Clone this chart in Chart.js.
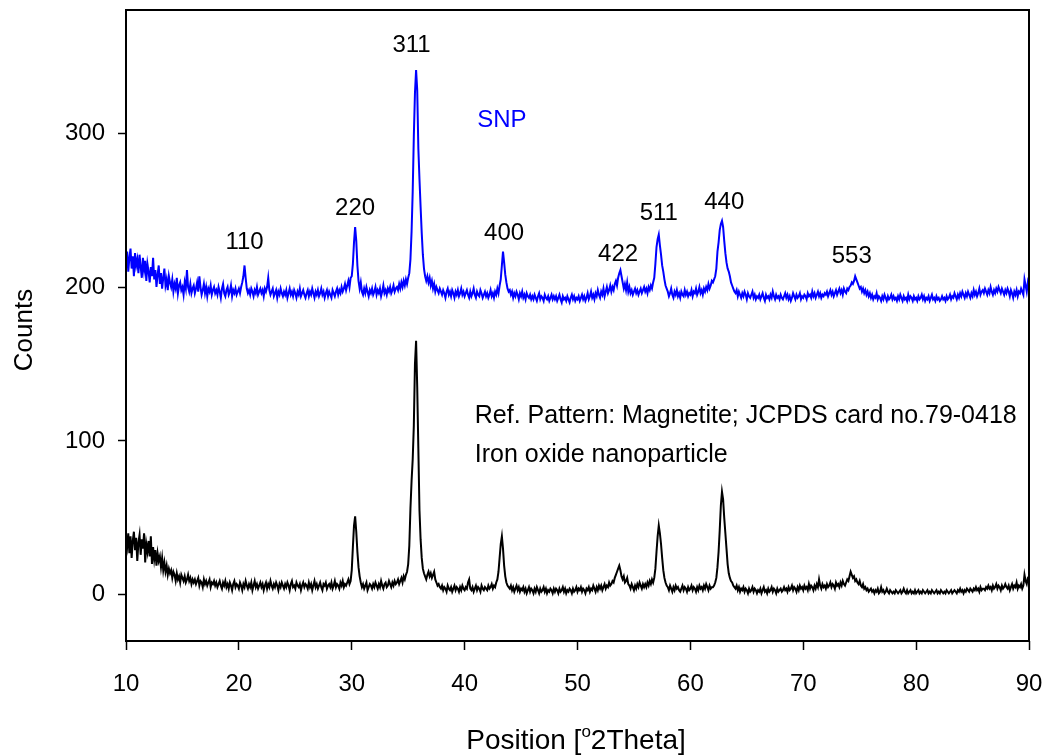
<!DOCTYPE html>
<html>
<head>
<meta charset="utf-8">
<script src="https://cdn.jsdelivr.net/npm/chart.js@4.4.0/dist/chart.umd.min.js"></script>
<style>
  html, body { margin: 0; padding: 0; background: #fff; }
</style>
</head>
<body>
<canvas id="myChart" width="1048" height="756"></canvas>
<script>
// scan grid (degrees 2theta)
var scanStart = 10
var scanStep = 0.1

// SNP pattern (blue), one value per 0.1 deg, 20 values per row = 2 deg
var snpCounts = [
  216, 223, 210, 219, 225, 212, 220, 207, 222, 214, 218, 209, 221, 213, 206, 219, 211, 217, 204, 215,
  210, 203, 213, 207, 219, 205, 211, 200, 208, 214, 202, 209, 199, 206, 212, 201, 205, 198, 207, 203,
  200, 205, 197, 202, 199, 206, 196, 201, 203, 198, 200, 195, 203, 199, 211, 200, 197, 202, 196, 199,
  201, 196, 199, 203, 197, 207, 200, 195, 198, 202, 196, 200, 194, 199, 197, 201, 195, 198, 200, 196,
  198, 195, 200, 197, 193, 199, 202, 196, 194, 198, 200, 195, 197, 201, 194, 198, 196, 199, 195, 197,
  199, 196, 200, 203, 207, 214, 206, 199, 196, 198, 195, 199, 197, 194, 198, 196, 200, 195, 197, 199,
  196, 198, 194, 199, 197, 200, 206, 198, 195, 197, 199, 194, 196, 198, 193, 197, 195, 199, 196, 194,
  197, 195, 198, 193, 196, 199, 195, 197, 194, 198, 196, 193, 197, 195, 199, 194, 196, 198, 195, 193,
  196, 198, 194, 197, 195, 199, 196, 193, 197, 195, 198, 194, 196, 199, 195, 197, 193, 196, 198, 194,
  197, 195, 193, 198, 196, 194, 197, 199, 195, 198, 196, 200, 197, 199, 202, 198, 201, 204, 200, 206,
  207, 215, 229, 239, 230, 214, 204, 199, 203, 197, 195, 199, 196, 200, 197, 194, 198, 196, 199, 195,
  197, 200, 195, 198, 196, 199, 194, 197, 201, 196, 198, 195, 199, 197, 200, 196, 198, 201, 197, 199,
  200, 198, 202, 199, 203, 200, 204, 201, 205, 202, 206, 209, 218, 236, 262, 298, 326, 341, 328, 290,
  270, 252, 235, 221, 212, 207, 204, 207, 203, 206, 201, 204, 199, 202, 197, 200, 198, 196, 199, 197,
  195, 198, 196, 193, 197, 199, 195, 197, 194, 198, 196, 193, 197, 195, 198, 194, 196, 199, 195, 197,
  194, 196, 198, 195, 193, 197, 194, 196, 199, 195, 193, 197, 195, 194, 198, 196, 193, 195, 197, 194,
  196, 193, 195, 198, 194, 196, 193, 197, 195, 199, 196, 201, 205, 214, 223, 216, 208, 203, 199, 197,
  198, 195, 197, 193, 196, 194, 197, 195, 192, 196, 194, 197, 193, 195, 192, 196, 194, 193, 195, 192,
  194, 192, 195, 193, 191, 194, 196, 192, 194, 193, 191, 195, 193, 192, 194, 191, 193, 195, 192, 194,
  192, 194, 191, 193, 195, 192, 190, 194, 192, 193, 191, 194, 192, 190, 193, 195, 192, 194, 191, 193,
  192, 194, 191, 193, 195, 192, 194, 191, 193, 196, 192, 194, 197, 193, 195, 192, 196, 194, 198, 195,
  193, 197, 195, 199, 194, 197, 200, 196, 198, 201, 197, 200, 198, 202, 204, 201, 206, 209, 211, 207,
  203, 199, 202, 198, 203, 197, 200, 196, 198, 195, 197, 199, 196, 198, 195, 197, 199, 196, 198, 200,
  197, 199, 196, 200, 198, 201, 199, 203, 206, 215, 226, 231, 234, 227, 221, 214, 210, 205, 201, 199,
  197, 194, 196, 199, 195, 193, 197, 195, 198, 194, 196, 193, 197, 195, 194, 198, 195, 197, 194, 196,
  195, 198, 194, 197, 196, 199, 195, 197, 200, 196, 198, 195, 199, 197, 200, 198, 202, 199, 201, 204,
  203, 205, 207, 212, 223, 229, 237, 241, 243, 239, 230, 222, 216, 212, 210, 207, 203, 201, 199, 197,
  196, 198, 194, 197, 195, 193, 196, 194, 197, 195, 192, 196, 194, 193, 195, 197, 193, 195, 192, 194,
  193, 195, 192, 194, 196, 193, 191, 195, 193, 194, 192, 195, 193, 197, 194, 192, 195, 193, 194, 192,
  195, 193, 192, 194, 196, 193, 195, 192, 194, 191, 193, 196, 194, 192, 195, 193, 194, 196, 192, 194,
  193, 195, 194, 192, 196, 194, 195, 193, 197, 194, 196, 193, 195, 197, 194, 196, 193, 195, 194, 196,
  195, 197, 194, 196, 198, 195, 197, 194, 196, 198, 195, 197, 199, 196, 198, 195, 199, 197, 196, 199,
  198, 200, 201, 203, 202, 204, 207, 205, 203, 201, 199, 200, 197, 199, 196, 198, 195, 197, 194, 196,
  193, 195, 192, 194, 193, 196, 192, 194, 193, 191, 194, 192, 195, 193, 191, 194, 192, 193, 195, 192,
  194, 192, 193, 191, 194, 192, 195, 193, 191, 194, 192, 193, 191, 195, 192, 194, 193, 191, 194, 192,
  193, 191, 194, 192, 193, 195, 192, 194, 191, 193, 192, 194, 191, 193, 195, 192, 193, 191, 194, 192,
  193, 191, 192, 194, 192, 193, 191, 194, 192, 193, 195, 192, 194, 193, 196, 194, 192, 195, 193, 196,
  194, 197, 195, 193, 196, 194, 197, 195, 193, 196, 194, 198, 195, 197, 194, 196, 199, 195, 197, 198,
  196, 199, 197, 195, 198, 196, 200, 197, 195, 198, 196, 199, 197, 200, 198, 196, 199, 197, 195, 198,
  196, 199, 197, 194, 198, 196, 193, 197, 195, 198, 194, 197, 196, 199, 197, 195, 205, 201, 197, 203,
  200
]

// iron oxide nanoparticle pattern (black)
var ironCounts = [
  36, 31, 40, 27, 38, 24, 35, 41, 29, 37, 22, 34, 39, 26, 36, 30, 40, 21, 33, 28,
  35, 25, 38, 20, 31, 23, 29, 19, 27, 22, 25, 18, 24, 16, 21, 15, 19, 13, 17, 14,
  16, 11, 15, 13, 9, 14, 10, 12, 8, 13, 11, 9, 12, 8, 10, 13, 9, 11, 7, 10,
  8, 10, 7, 9, 11, 6, 9, 8, 5, 10, 7, 9, 6, 8, 10, 5, 8, 7, 9, 6,
  8, 5, 7, 9, 6, 4, 8, 6, 9, 5, 7, 4, 8, 6, 3, 7, 9, 5, 7, 6,
  4, 8, 6, 3, 7, 5, 9, 6, 4, 7, 5, 8, 3, 6, 9, 5, 7, 4, 6, 8,
  5, 7, 3, 6, 8, 4, 7, 5, 9, 6, 4, 7, 5, 8, 6, 3, 7, 5, 8, 6,
  4, 7, 5, 8, 6, 3, 7, 9, 5, 6, 4, 8, 6, 5, 7, 3, 6, 8, 5, 7,
  6, 4, 8, 5, 7, 3, 6, 9, 5, 7, 4, 6, 8, 5, 3, 7, 6, 8, 4, 6,
  7, 5, 8, 4, 6, 9, 5, 7, 6, 4, 8, 6, 9, 5, 7, 6, 8, 10, 7, 9,
  16, 31, 45, 51, 41, 28, 18, 12, 8, 5, 7, 4, 6, 8, 3, 5, 7, 6, 4, 7,
  5, 8, 6, 4, 7, 5, 9, 6, 4, 7, 8, 5, 6, 9, 7, 5, 8, 6, 9, 7,
  8, 10, 7, 9, 11, 8, 12, 10, 13, 15, 20, 32, 56, 74, 88, 110, 150, 165, 135, 95,
  55, 36, 24, 17, 14, 12, 10, 13, 15, 12, 14, 11, 13, 15, 10, 8, 6, 7, 5, 4,
  6, 3, 5, 4, 2, 6, 4, 3, 5, 2, 4, 6, 3, 5, 4, 2, 5, 3, 6, 4,
  3, 5, 4, 8, 10, 4, 3, 5, 2, 4, 6, 3, 5, 4, 2, 6, 4, 3, 5, 4,
  3, 6, 4, 5, 7, 4, 6, 5, 8, 10, 15, 24, 33, 38, 30, 19, 12, 8, 6, 5,
  4, 6, 3, 5, 2, 4, 6, 3, 5, 2, 4, 3, 5, 2, 4, 1, 3, 5, 2, 4,
  3, 1, 4, 2, 5, 3, 1, 4, 2, 3, 5, 2, 4, 1, 3, 2, 4, 3, 1, 4,
  2, 4, 3, 1, 4, 2, 3, 5, 2, 4, 1, 3, 2, 4, 3, 1, 4, 2, 3, 5,
  2, 4, 3, 5, 2, 4, 3, 1, 4, 3, 5, 2, 4, 3, 6, 4, 2, 5, 3, 6,
  4, 6, 3, 5, 7, 4, 6, 5, 8, 6, 7, 9, 8, 11, 13, 15, 17, 19, 16, 12,
  10, 12, 8, 9, 11, 7, 6, 4, 7, 5, 3, 6, 4, 7, 5, 8, 6, 4, 7, 5,
  7, 5, 8, 6, 9, 7, 10, 8, 11, 17, 28, 38, 45, 40, 33, 24, 16, 11, 8, 6,
  5, 3, 6, 4, 2, 5, 3, 6, 4, 5, 3, 2, 4, 6, 3, 5, 4, 2, 5, 3,
  4, 6, 3, 5, 4, 2, 5, 3, 6, 4, 5, 3, 6, 4, 7, 5, 3, 6, 4, 5,
  5, 6, 8, 11, 18, 28, 42, 58, 67, 62, 50, 40, 30, 20, 14, 11, 9, 8, 6, 5,
  4, 6, 3, 5, 2, 4, 3, 5, 2, 4, 3, 1, 4, 2, 3, 5, 2, 4, 3, 1,
  3, 2, 4, 1, 3, 5, 2, 3, 1, 4, 2, 3, 5, 2, 4, 3, 1, 4, 2, 3,
  4, 2, 3, 5, 3, 4, 2, 5, 3, 4, 6, 3, 5, 4, 2, 5, 3, 6, 4, 5,
  3, 6, 4, 5, 3, 7, 4, 6, 5, 3, 6, 4, 7, 5, 10, 6, 4, 7, 5, 6,
  4, 7, 5, 6, 8, 5, 7, 6, 4, 8, 6, 7, 5, 8, 6, 9, 7, 6, 8, 10,
  9, 12, 15, 13, 11, 12, 9, 10, 8, 7, 9, 6, 5, 7, 4, 5, 3, 4, 2, 3,
  4, 2, 3, 1, 3, 2, 4, 1, 2, 5, 2, 3, 1, 2, 4, 2, 1, 3, 2, 1,
  2, 1, 3, 2, 1, 2, 3, 1, 2, 4, 2, 1, 3, 1, 2, 3, 1, 2, 1, 3,
  1, 2, 3, 1, 2, 1, 3, 2, 1, 2, 3, 1, 2, 1, 3, 2, 1, 2, 3, 1,
  2, 1, 3, 2, 1, 2, 1, 3, 2, 1, 2, 3, 1, 2, 3, 2, 1, 3, 2, 4,
  2, 3, 1, 3, 2, 4, 3, 2, 4, 3, 2, 4, 3, 5, 3, 4, 2, 5, 3, 4,
  4, 3, 5, 4, 6, 4, 5, 3, 6, 4, 5, 7, 4, 6, 5, 3, 6, 4, 5, 7,
  5, 4, 6, 3, 5, 7, 4, 6, 5, 8, 4, 6, 5, 7, 4, 6, 13, 9, 7, 11,
  12
]

var angleTicks = [10, 20, 30, 40, 50, 60, 70, 80, 90]
var countTicks = [0, 100, 200, 300]

// hkl labels over the SNP peaks
var peakNames = ['110', '220', '311', '400', '422', '511', '440', '553']
var peakAngle = [20.5, 30.3, 35.3, 43.5, 53.6, 57.2, 63.0, 74.3]
var peakCount = [229, 251, 357, 235, 221, 248, 255, 220]

var fontFam = "'Liberation Sans', Arial, sans-serif"

var positions = snpCounts.map(function (c, i) { return +(scanStart + i * scanStep).toFixed(1) })

var extraText = {
  id: 'extraText',
  afterDraw: function (chart) {
    var ctx = chart.ctx
    var xs = chart.scales.x
    var ys = chart.scales.y
    var a = chart.chartArea
    ctx.save()
    // frame
    ctx.strokeStyle = '#000'
    ctx.lineWidth = 2
    ctx.strokeRect(a.left, a.top, a.right - a.left, a.bottom - a.top)

    ctx.fillStyle = '#000'
    ctx.textAlign = 'center'
    ctx.textBaseline = 'middle'
    ctx.font = '24px ' + fontFam
    for (var i = 0; i < peakNames.length; i++) {
      ctx.fillText(peakNames[i], xs.getPixelForValue(peakAngle[i]), ys.getPixelForValue(peakCount[i]))
    }
    ctx.fillStyle = '#0000ff'
    ctx.fillText('SNP', xs.getPixelForValue(43.3), ys.getPixelForValue(308))

    ctx.fillStyle = '#000'
    ctx.textAlign = 'left'
    ctx.font = '25px ' + fontFam
    ctx.fillText('Ref. Pattern: Magnetite; JCPDS card no.79-0418', xs.getPixelForValue(40.9), ys.getPixelForValue(116))
    ctx.fillText('Iron oxide nanoparticle', xs.getPixelForValue(40.9), ys.getPixelForValue(91))

    // axis titles
    ctx.font = '26px ' + fontFam
    ctx.textAlign = 'center'
    ctx.save()
    ctx.translate(25, 330)
    ctx.rotate(-Math.PI / 2)
    ctx.fillText('Counts', 0, 0)
    ctx.restore()

    var t1 = 'Position ['
    var t2 = 'o'
    var t3 = '2Theta]'
    ctx.font = '28px ' + fontFam
    var w1 = ctx.measureText(t1).width
    var w3 = ctx.measureText(t3).width
    ctx.font = '17px ' + fontFam
    var w2 = ctx.measureText(t2).width
    var x0 = 576 - (w1 + w2 + w3) / 2
    var yb = 749
    ctx.textAlign = 'left'
    ctx.textBaseline = 'alphabetic'
    ctx.font = '28px ' + fontFam
    ctx.fillText(t1, x0, yb)
    ctx.font = '17px ' + fontFam
    ctx.fillText(t2, x0 + w1, yb - 12)
    ctx.font = '28px ' + fontFam
    ctx.fillText(t3, x0 + w1 + w2, yb)
    ctx.restore()
  }
}

new Chart(document.getElementById('myChart'), {
  type: 'line',
  data: {
    datasets: [
      {
        label: 'SNP',
        data: snpCounts.map(function (c, i) { return { x: positions[i], y: c } }),
        borderColor: '#0000ff',
        borderWidth: 2,
        pointRadius: 0,
        tension: 0
      },
      {
        label: 'Iron oxide nanoparticle',
        data: ironCounts.map(function (c, i) { return { x: positions[i], y: c } }),
        borderColor: '#000000',
        borderWidth: 2,
        pointRadius: 0,
        tension: 0
      }
    ]
  },
  options: {
    responsive: false,
    animation: false,
    devicePixelRatio: 1,
    layout: { padding: { top: 10, right: 19, left: 0, bottom: 0 } },
    plugins: {
      legend: { display: false },
      tooltip: { enabled: false }
    },
    scales: {
      x: {
        type: 'linear',
        min: 10,
        max: 90,
        afterBuildTicks: function (s) { s.ticks = angleTicks.map(function (v) { return { value: v } }) },
        afterFit: function (s) { s.height = 115; s.paddingLeft = 0; s.paddingRight = 0 },
        border: { display: false },
        grid: { drawOnChartArea: false, drawTicks: true, tickLength: 9, tickWidth: 1.5, tickColor: '#000' },
        ticks: { color: '#000', font: { family: fontFam, size: 24 }, padding: 20, maxRotation: 0 }
      },
      y: {
        type: 'linear',
        min: -30,
        max: 380,
        afterBuildTicks: function (s) { s.ticks = countTicks.map(function (v) { return { value: v } }) },
        afterFit: function (s) { s.width = 126; s.paddingTop = 0; s.paddingBottom = 0 },
        border: { display: false },
        grid: { drawOnChartArea: false, drawTicks: true, tickLength: 8, tickWidth: 1.5, tickColor: '#000' },
        ticks: { color: '#000', font: { family: fontFam, size: 24 }, padding: 13 }
      }
    }
  },
  plugins: [extraText]
})
</script>
</body>
</html>
